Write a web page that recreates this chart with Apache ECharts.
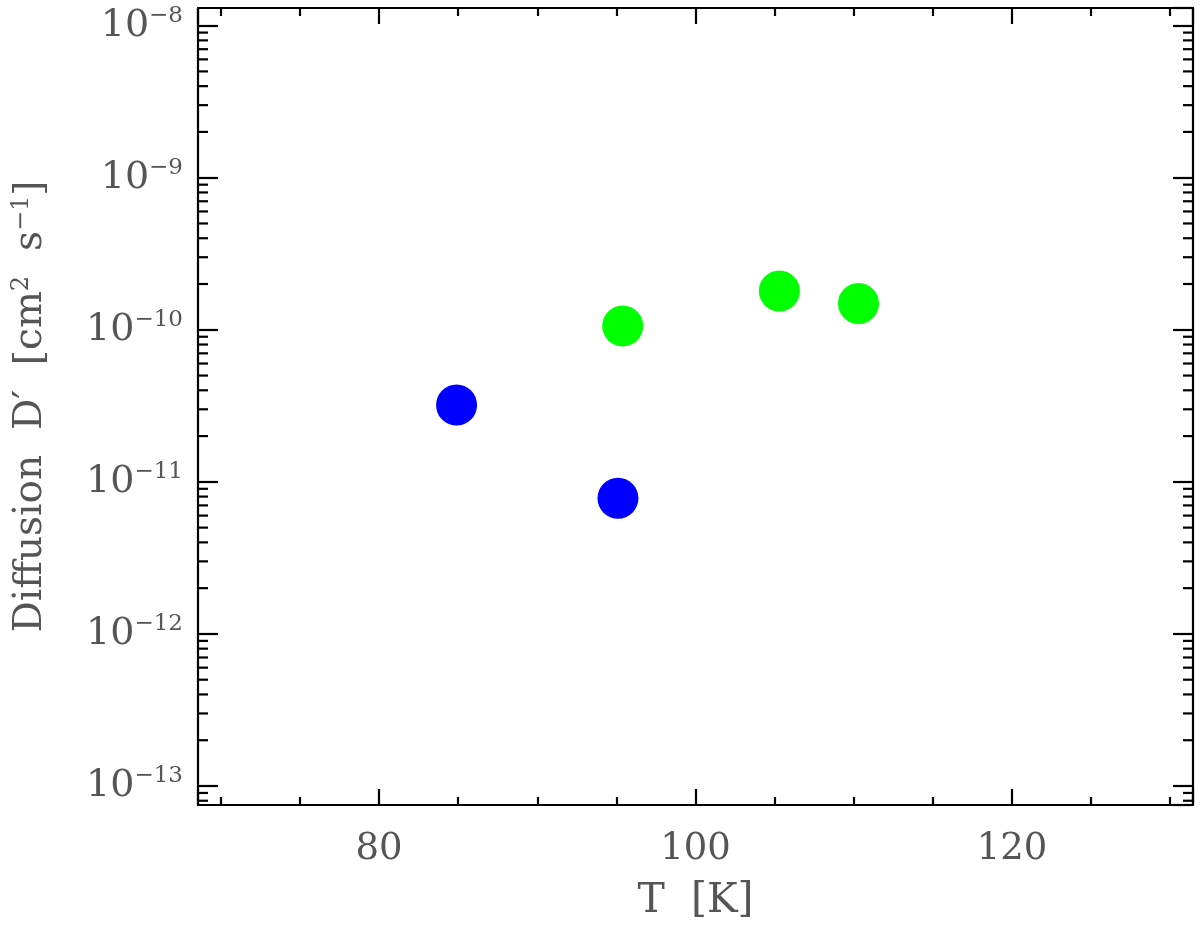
<!DOCTYPE html>
<html>
<head>
<meta charset="utf-8">
<script src="https://cdn.jsdelivr.net/npm/echarts@6/dist/echarts.min.js"></script>
<style>html,body{margin:0;padding:0;background:#fff;}#c{width:1200px;height:931px;}</style>
</head>
<body>
<div id="c"></div>
<script>
// ---- data ----
const blueT = [84.9, 95.1];
const blueD = [3.2e-11, 7.8e-12];
const greenT = [95.4, 105.3, 110.3];
const greenD = [1.06e-10, 1.80e-10, 1.49e-10];
const xMin = 68.56, xMax = 131.44;
const yMin = 7.5e-14, yMax = 1.306e-8;
const decades = [-14, -13, -12, -11, -10, -9, -8];
const mantissas = [2, 3, 4, 5, 6, 7, 8, 9];
const xTitle = 'T  [K]';
const yTitle = 'Diffusion  D′  [cm{sup|2}  s{sup|−1}]';

const minorY = [];
decades.forEach(d => mantissas.forEach(m => {
  const v = m * Math.pow(10, d);
  if (v > yMin && v < yMax) minorY.push([xMin, v]);
}));

const FONT = 'DejaVu Serif';
const TXT = '#555555';

const chart = echarts.init(document.getElementById('c'));
const xBase = {
  type: 'value', min: xMin, max: xMax, splitNumber: 3,
  splitLine: {show: false},
  axisLine: {show: true, onZero: false, lineStyle: {color: '#000', width: 2.2}},
  axisTick: {show: true, inside: true, length: 16, lineStyle: {color: '#000', width: 2.2}},
  minorTick: {show: true, splitNumber: 4, length: 8, lineStyle: {color: '#000', width: 2.2}},
};
const yBase = {
  type: 'log', logBase: 10, min: yMin, max: yMax,
  splitLine: {show: false},
  axisLine: {show: true, onZero: false, lineStyle: {color: '#000', width: 2.2}},
  axisTick: {show: true, inside: true, length: 20, lineStyle: {color: '#000', width: 2.2}},
  minorTick: {show: false},
};
chart.setOption({
  animation: false,
  backgroundColor: '#fff',
  grid: {left: 198, right: 7, top: 8, bottom: 126, containLabel: false},
  xAxis: [
    Object.assign({}, xBase, {
      position: 'bottom',
      name: xTitle, nameLocation: 'middle', nameGap: 76,
      nameTextStyle: {fontFamily: FONT, fontSize: 41, color: TXT},
      axisLabel: {show: true, margin: 26, fontFamily: FONT, fontSize: 37, color: TXT,
        showMinLabel: false, showMaxLabel: false}
    }),
    Object.assign({}, xBase, {position: 'top', axisLabel: {show: false}})
  ],
  yAxis: [
    Object.assign({}, yBase, {
      position: 'left',
      name: yTitle, nameLocation: 'middle', nameGap: 146, nameRotate: 90,
      nameTextStyle: {fontFamily: FONT, fontSize: 39, color: TXT,
        rich: {sup: {fontFamily: FONT, fontSize: 24, color: TXT, padding: [0, 0, 18, 0]}}},
      axisLabel: {
        show: true, margin: 15, showMinLabel: false, showMaxLabel: false,
        formatter: v => {
          const e = Math.round(Math.log10(v));
          return '{b|10}{s|' + (e < 0 ? '−' : '') + Math.abs(e) + '}';
        },
        rich: {
          b: {fontFamily: FONT, fontSize: 38, color: TXT},
          s: {fontFamily: FONT, fontSize: 23, color: TXT, padding: [0, 0, 20, 0]}
        }
      }
    }),
    Object.assign({}, yBase, {position: 'right', axisLabel: {show: false}})
  ],
  series: [
    {type: 'scatter', xAxisIndex: 0, yAxisIndex: 0, symbol: 'circle', symbolSize: 41,
      itemStyle: {color: '#0000ff', opacity: 1}, data: blueT.map((t, i) => [t, blueD[i]])},
    {type: 'scatter', xAxisIndex: 0, yAxisIndex: 0, symbol: 'circle', symbolSize: 41,
      itemStyle: {color: '#00ff00', opacity: 1}, data: greenT.map((t, i) => [t, greenD[i]])},
    {type: 'custom', xAxisIndex: 0, yAxisIndex: 0, silent: true, clip: false,
      data: minorY,
      renderItem: (params, api) => {
        const cs = params.coordSys;
        const p = api.coord([api.value(0), api.value(1)]);
        const y = p[1];
        const st = {stroke: '#000', lineWidth: 2.2};
        return {type: 'group', children: [
          {type: 'line', shape: {x1: cs.x, y1: y, x2: cs.x + 10, y2: y}, style: st},
          {type: 'line', shape: {x1: cs.x + cs.width - 10, y1: y, x2: cs.x + cs.width, y2: y}, style: st}
        ]};
      }}
  ]
});
</script>
</body>
</html>
